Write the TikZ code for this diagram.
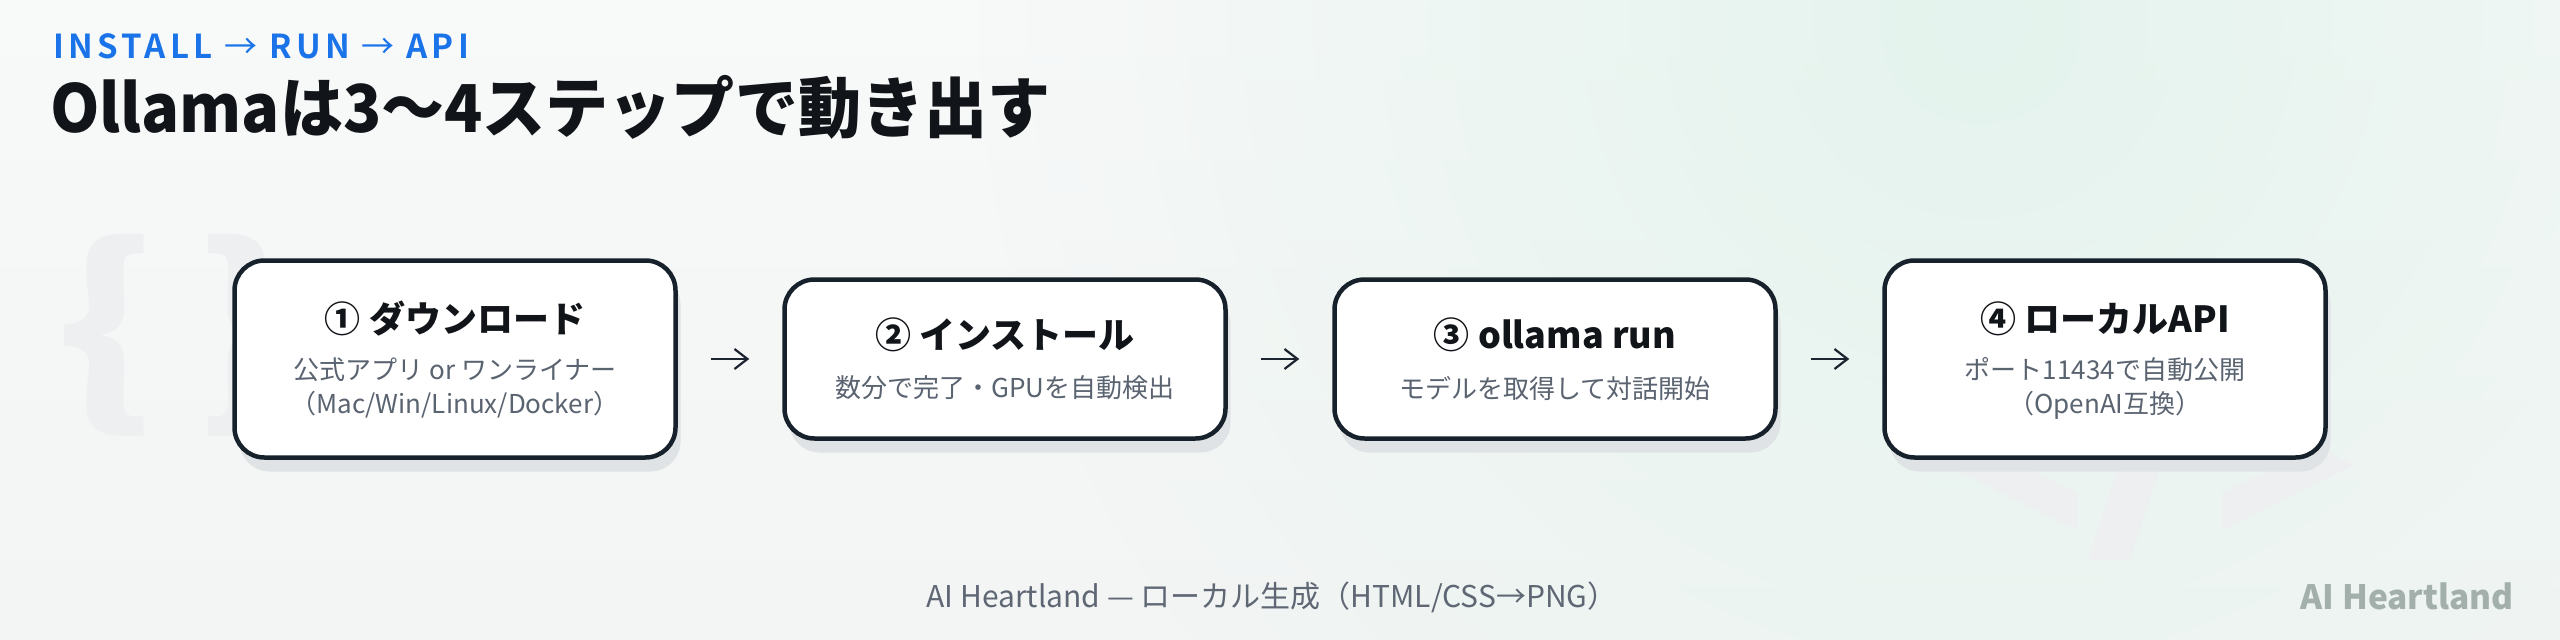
\documentclass[tikz,border=0pt]{standalone}
\usepackage{fontspec}
\usepackage{graphicx}
\setmainfont{Noto Sans CJK JP}
\newfontfamily\jpblack{Noto Sans CJK JP Black}
\newfontfamily\jpspaced{Noto Sans CJK JP Bold}[LetterSpace=13]
\newfontfamily\jpspacedlight{Noto Sans CJK JP}[LetterSpace=13]
\newcommand{\setfs}[1]{\fontsize{#1}{#1}\selectfont}
\newcommand{\kickarrow}{{\jpspacedlight →}}
\usetikzlibrary{arrows.meta,shadows,fadings}
\tikzfading[name=glowfade, inner color=transparent!0, outer color=transparent!100]
\definecolor{bgA}{HTML}{F8F9F9}
\definecolor{bgB}{HTML}{F2F5F4}
\definecolor{mint}{HTML}{E4F3ED}
\definecolor{ink}{HTML}{111418}
\definecolor{bordc}{HTML}{17212B}
\definecolor{shadowc}{HTML}{DFE3E5}
\definecolor{subc}{HTML}{5A6370}
\definecolor{bluec}{HTML}{1A73E8}
\definecolor{footc}{HTML}{5F6774}
\definecolor{brandc}{HTML}{A2AFAB}
\definecolor{wmc}{HTML}{EDEFF0}
\definecolor{arrc}{HTML}{1B2430}
\tikzset{
  stepbox/.style={draw=bordc, line width=4.5pt, fill=white, rounded corners=30pt,
    minimum width=441pt, inner sep=0pt,
    general shadow={fill=shadowc, draw=none, shadow xshift=5pt, shadow yshift=-14pt}},
  tallbox/.style={stepbox, minimum height=197pt},
  shortbox/.style={stepbox, minimum height=159pt},
  steptitle/.style={inner sep=0pt, text=ink, font=\jpblack\setfs{36}},
  stepsub/.style={inner sep=0pt, text=subc, font=\setfs{26}},
  flowarrow/.style={draw=arrc, line width=2.2pt, shorten <=33pt, shorten >=33pt,
    -{Straight Barb[length=13pt, width=20pt, line width=2.2pt]}},
  wmark/.style={inner sep=0pt, text=wmc, font=\jpblack},
  wmshape/.style={fill=wmc, draw=none},
}
\begin{document}
\begin{tikzpicture}[x=1pt,y=-1pt]
\useasboundingbox (0,0) rectangle (2560,640);
\shade[top color=bgA, bottom color=bgB] (0,0) rectangle (2560,640);
\begin{scope}
\clip (0,0) rectangle (2560,640);
\fill[mint, path fading=glowfade] (1980,20) circle (1000);
\end{scope}
% watermarks
\node[wmark, font=\jpblack\setfs{205}] (wmbrace) at (176,335) {\scalebox{1.25}[1]{\{}\hspace{36pt}\scalebox{1.25}[1]{\}}};
\fill[wmshape] (2077,400) -- (1945,465) -- (2077,530) -- (2077,493) -- (2020,465) -- (2077,437) -- cycle;
\fill[wmshape] (2164,330) -- (2206,330) -- (2130,560) -- (2088,560) -- cycle;
\fill[wmshape] (2222,400) -- (2354,465) -- (2222,530) -- (2222,493) -- (2279,465) -- (2222,437) -- cycle;
% headings
\node[anchor=base west, inner sep=0pt, text=bluec, font=\jpspaced\setfs{33}] (kicker) at (53,58) {INSTALL \kickarrow{} RUN \kickarrow{} API};
\node[anchor=base west, inner sep=0pt, text=ink, font=\jpblack\setfs{66}] (title) at (50,132) {\scalebox{0.955}[1]{Ollamaは3〜4ステップで動き出す}};
% boxes
\node[tallbox] (b1) at (455,359) {};
\node[shortbox] (b2) at (1005,359) {};
\node[shortbox] (b3) at (1555,359) {};
\node[tallbox] (b4) at (2105,359) {};
% texts
\node[steptitle] (t1) at (455,319) {① ダウンロード};
\node[stepsub] (s1a) at (455,370) {公式アプリ or ワンライナー};
\node[stepsub] (s1b) at (455,405) {（Mac/Win/Linux/Docker）};
\node[steptitle] (t2) at (1005,335) {② インストール};
\node[stepsub] (s2a) at (1005,388) {数分で完了・GPUを自動検出};
\node[steptitle] (t3) at (1555,335) {③ ollama run};
\node[stepsub] (s3a) at (1555,388) {モデルを取得して対話開始};
\node[steptitle] (t4) at (2105,319) {④ ローカルAPI};
\node[stepsub] (s4a) at (2105,370) {ポート11434で自動公開};
\node[stepsub] (s4b) at (2105,405) {（OpenAI互換）};
% arrows
\draw[flowarrow] (b1.east) -- (b2.west);
\draw[flowarrow] (b2.east) -- (b3.west);
\draw[flowarrow] (b3.east) -- (b4.west);
% footer
\node[inner sep=0pt, text=footc, font=\setfs{30}] (footer) at (1272,597) {AI Heartland — ローカル生成（HTML/CSS→PNG）};
\node[anchor=east, inner sep=0pt, text=brandc, font=\jpblack\setfs{33.5}] (brand) at (2514,596) {AI Heartland};
\end{tikzpicture}
\end{document}
